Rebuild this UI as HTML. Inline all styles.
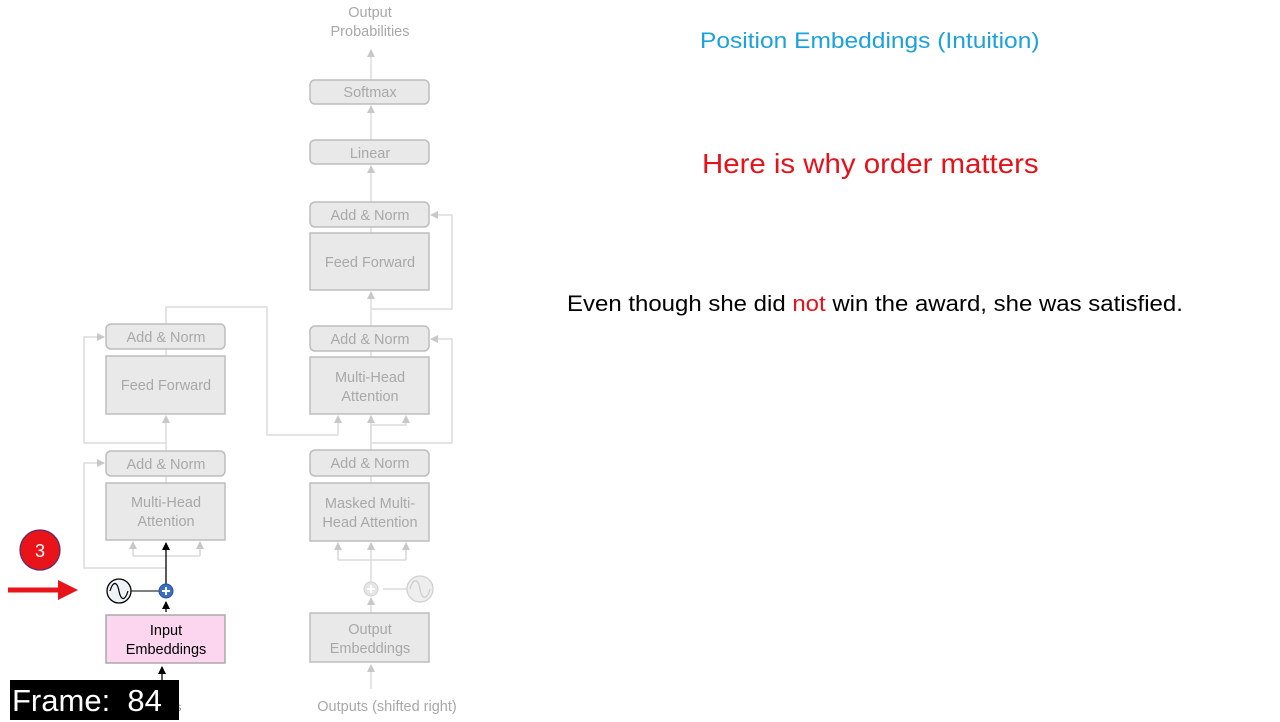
<!DOCTYPE html>
<html><head><meta charset="utf-8"><style>
body{margin:0;width:1280px;height:720px;background:#fff;overflow:hidden;position:relative;font-family:"Liberation Sans",sans-serif}
.t{position:absolute;white-space:nowrap;transform-origin:0 0}
</style></head><body>
<svg width="1280" height="720" style="position:absolute;left:0;top:0" font-family="Liberation Sans, sans-serif">
<defs>
<marker id="ag" markerWidth="8" markerHeight="8" refX="7" refY="4" orient="auto" markerUnits="userSpaceOnUse"><path d="M0,0 L8,4 L0,8z" fill="#c8c8c8"/></marker>
<marker id="ab" markerWidth="8" markerHeight="8" refX="7" refY="4" orient="auto" markerUnits="userSpaceOnUse"><path d="M0,0 L8,4 L0,8z" fill="#000"/></marker>
</defs>
<g fill="none" stroke="#dcdcdc" stroke-width="1.5">
<path d="M166,568 H84 V463 H104" marker-end="url(#ag)"/>
<path d="M166,443 H84 V337 H104" marker-end="url(#ag)"/>
<path d="M166,476 V483 M166,349 V356"/>
<path d="M166,450 V416" marker-end="url(#ag)"/>
<path d="M133,556 H200 M133,556 V543 M200,556 V543" />
<path d="M133,556 V542" marker-end="url(#ag)"/><path d="M200,556 V542" marker-end="url(#ag)"/>
<path d="M166,324 V307 H267 V435 H338 V416" marker-end="url(#ag)"/>
<path d="M371,613 V598" marker-end="url(#ag)"/>
<path d="M371,689 V665" marker-end="url(#ag)"/>
<path d="M383,589 H408"/>
<path d="M371,582 V560 M338,560 H406 M338,560 V543 M406,560 V543" />
<path d="M338,560 V543" marker-end="url(#ag)"/><path d="M371,560 V543" marker-end="url(#ag)"/><path d="M406,560 V543" marker-end="url(#ag)"/>
<path d="M371,450 V425 H406 V416" marker-end="url(#ag)"/>
<path d="M371,440 V416" marker-end="url(#ag)"/>
<path d="M371,443 H452 V339 H431" marker-end="url(#ag)"/>
<path d="M371,326 V292" marker-end="url(#ag)"/>
<path d="M371,309 H452 V215 H431" marker-end="url(#ag)"/>
<path d="M371,351 V357 M371,227 V233 M371,476 V483"/>
<path d="M371,202 V166" marker-end="url(#ag)"/>
<path d="M371,140 V106" marker-end="url(#ag)"/>
<path d="M371,80 V50" marker-end="url(#ag)"/>
</g>
<g fill="#e9e9e9" stroke="#bdbdbd" stroke-width="1.5">
<rect x="106" y="324" width="119" height="25" rx="5"/>
<rect x="106" y="356" width="119" height="58"/>
<rect x="106" y="451" width="119" height="25" rx="5"/>
<rect x="106" y="483" width="119" height="57"/>
<rect x="310" y="80" width="119" height="24" rx="5"/>
<rect x="310" y="140" width="119" height="24" rx="5"/>
<rect x="310" y="202" width="119" height="25" rx="5"/>
<rect x="310" y="233" width="119" height="57"/>
<rect x="310" y="326" width="119" height="25" rx="5"/>
<rect x="310" y="357" width="119" height="57"/>
<rect x="310" y="450" width="119" height="26" rx="5"/>
<rect x="310" y="483" width="119" height="58"/>
<rect x="310" y="613" width="119" height="49"/>
</g>
<rect x="106" y="615" width="119" height="48" fill="#fcd6ef" stroke="#aaa" stroke-width="1.5"/>
<g fill="#a8a8a8" font-size="14.5" text-anchor="middle">
<text x="166" y="342">Add &amp; Norm</text>
<text x="166" y="390">Feed Forward</text>
<text x="166" y="469">Add &amp; Norm</text>
<text x="166" y="507">Multi-Head</text><text x="166" y="526">Attention</text>
<text x="370" y="97">Softmax</text>
<text x="370" y="158">Linear</text>
<text x="370" y="220">Add &amp; Norm</text>
<text x="370" y="267">Feed Forward</text>
<text x="370" y="344">Add &amp; Norm</text>
<text x="370" y="382">Multi-Head</text><text x="370" y="401">Attention</text>
<text x="370" y="468">Add &amp; Norm</text>
<text x="370" y="508">Masked Multi-</text><text x="370" y="527">Head Attention</text>
<text x="370" y="634">Output</text><text x="370" y="653">Embeddings</text>
<text x="370" y="17">Output</text><text x="370" y="36">Probabilities</text>
<text x="387" y="711">Outputs (shifted right)</text>
</g>
<g fill="#000" font-size="14.5" text-anchor="middle">
<text x="166" y="635">Input</text><text x="166" y="654">Embeddings</text>
</g>
<path d="M166,612 V602" stroke="#000" stroke-width="1.3" marker-end="url(#ab)"/>
<path d="M166,584 V543" stroke="#000" stroke-width="1.3" marker-end="url(#ab)"/>
<path d="M162,690 V667" stroke="#000" stroke-width="1.3" marker-end="url(#ab)"/>
<path d="M131,591 H159" stroke="#000" stroke-width="1"/>
<circle cx="119" cy="591" r="12" fill="#eef3f8" stroke="#000" stroke-width="1.3"/>
<path d="M110,591 C113,581 117,581 119,591 C121,601 125,601 128,591" fill="none" stroke="#000" stroke-width="1.2"/>
<circle cx="166" cy="591" r="7" fill="#3b6fc4" stroke="#2a4f90"/>
<path d="M162,591 H170 M166,587 V595" stroke="#fff" stroke-width="2"/>
<circle cx="371" cy="589" r="7" fill="#e6e6e6" stroke="#d0d0d0"/>
<path d="M367,589 H375 M371,585 V593" stroke="#fff" stroke-width="2"/>
<circle cx="420" cy="589" r="13" fill="#eeeeee" stroke="#d0d0d0" stroke-width="1.3"/>
<path d="M410,589 C413,578 418,578 420,589 C422,600 427,600 430,589" fill="none" stroke="#ccc" stroke-width="1.2"/>
<circle cx="40" cy="550" r="20" fill="#e8141a" stroke="#5a2a6a" stroke-width="1.2"/>
<text x="40" y="557" font-size="18" fill="#fff" text-anchor="middle">3</text>
<path d="M8,590 H60" stroke="#e8141a" stroke-width="5"/>
<path d="M58,580 L78,590 L58,600z" fill="#e8141a"/>
<text x="165" y="711" font-size="12" fill="#888" text-anchor="middle">Inputs</text>
</svg>
<div class="t" style="left:10px;top:680px;width:167px;height:40px;background:#000;color:#fff;font-size:31px;line-height:42px;padding-left:2px">Frame: &nbsp;84</div>
<div class="t" style="left:700px;top:28px;font-size:22px;color:#1ba1dc;transform:scaleX(1.115)">Position Embeddings (Intuition)</div>
<div class="t" style="left:702px;top:148px;font-size:28px;color:#e4121a;transform:scaleX(1.05)">Here is why order matters</div>
<div class="t" style="left:567px;top:291px;font-size:22px;color:#000;transform:scaleX(1.09)">Even though she did <span style="color:#e4121a">not</span> win the award, she was satisfied.</div>
</body></html>
